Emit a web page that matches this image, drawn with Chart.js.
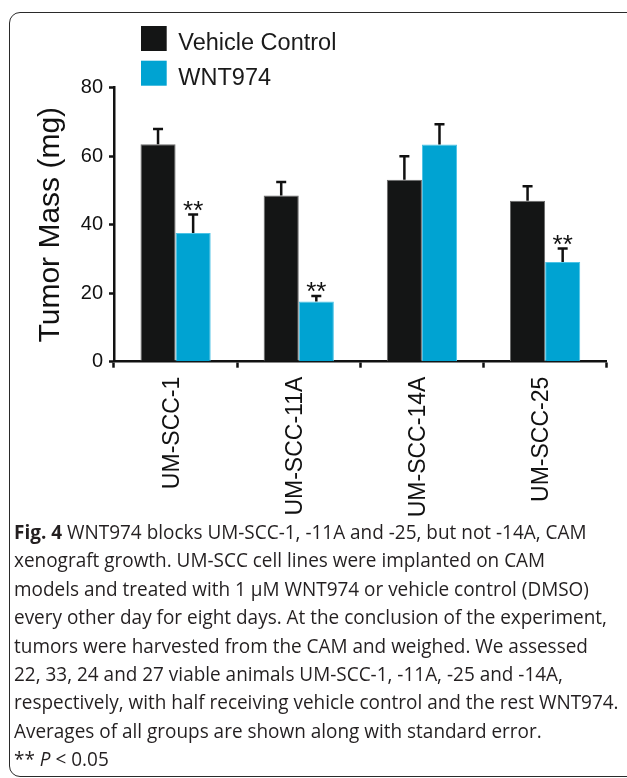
<!DOCTYPE html>
<html>
<head>
<meta charset="utf-8">
<script src="https://cdn.jsdelivr.net/npm/chart.js@4.4.1/dist/chart.umd.min.js"></script>
<style>
html,body{margin:0;padding:0;background:#fff;width:627px;height:778px;overflow:hidden;}
#frame{position:absolute;left:9px;top:12px;width:700px;height:765px;border:1.5px solid #2a2a2a;border-radius:11px;box-sizing:border-box;}
#wrap{position:absolute;left:0;top:0;width:627px;height:520px;}
#caption{position:absolute;left:14px;top:518px;font-family:"Open Sans";font-size:19.5px;line-height:28.4px;color:#231f20;transform-origin:0 0;white-space:nowrap;}
#caption .ln span{display:inline-block;}
</style>
</head>
<body>
<div id="frame"></div>
<div id="wrap"><canvas id="c" width="627" height="520"></canvas></div>
<div id="caption">
<div class="ln"><span><b>Fig. 4</b> WNT974 blocks UM-SCC-1, -11A and -25, but not -14A, CAM</span></div>
<div class="ln"><span>xenograft growth. UM-SCC cell lines were implanted on CAM</span></div>
<div class="ln"><span>models and treated with 1 µM WNT974 or vehicle control (DMSO)</span></div>
<div class="ln"><span id="refline">every other day for eight days. At the conclusion of the experiment,</span></div>
<div class="ln"><span>tumors were harvested from the CAM and weighed. We assessed</span></div>
<div class="ln"><span>22, 33, 24 and 27 viable animals UM-SCC-1, -11A, -25 and -14A,</span></div>
<div class="ln"><span>respectively, with half receiving vehicle control and the rest WNT974.</span></div>
<div class="ln"><span>Averages of all groups are shown along with standard error.</span></div>
<div class="ln"><span>** <i>P</i> &lt; 0.05</span></div>
</div>
<script>
// ---- data ----
const categories = ['UM-SCC-1', 'UM-SCC-11A', 'UM-SCC-14A', 'UM-SCC-25'];
const seriesNames = ['Vehicle Control', 'WNT974'];
const vehicleControl = [63.5, 48.5, 53.1, 47.0];
const vehicleControlSE = [4.8, 4.3, 7.2, 4.6];
const wnt974 = [37.6, 17.6, 63.4, 29.1];
const wnt974SE = [5.7, 1.9, 6.3, 4.3];
const significant = [true, true, false, true];
const yTicks = [0, 20, 40, 60, 80];

const errors = [vehicleControlSE, wnt974SE];
const FONT = 'Liberation Sans';

const extrasPlugin = {
  id: 'extras',
  afterDatasetsDraw(chart) {
    const ctx = chart.ctx;
    const y = chart.scales.y;
    chart.data.datasets.forEach((ds, di) => {
      const meta = chart.getDatasetMeta(di);
      meta.data.forEach((bar, i) => {
        const top = y.getPixelForValue(ds.data[i] + errors[di][i]);
        ctx.save();
        ctx.strokeStyle = '#111';
        ctx.lineWidth = 2.5;
        ctx.beginPath();
        ctx.moveTo(bar.x, bar.y);
        ctx.lineTo(bar.x, top);
        ctx.moveTo(bar.x - 5, top + 1.2);
        ctx.lineTo(bar.x + 5, top + 1.2);
        ctx.stroke();
        if (di === 1 && significant[i]) {
          ctx.fillStyle = '#111';
          ctx.font = '26px "' + FONT + '"';
          ctx.textAlign = 'center';
          ctx.textBaseline = 'alphabetic';
          ctx.fillText('**', bar.x, top + 5.3);
        }
        ctx.restore();
      });
    });
  },
  afterDraw(chart) {
    const ctx = chart.ctx;
    chart.data.datasets.forEach((ds, di) => {
      ctx.save();
      ctx.fillStyle = ds.backgroundColor;
      ctx.fillRect(141, 26 + di * 34.7, 25.7, 25);
      ctx.fillStyle = '#1a1a1a';
      ctx.font = '23.5px "' + FONT + '"';
      ctx.textAlign = 'left';
      ctx.textBaseline = 'alphabetic';
      ctx.fillText(ds.label, 178.3, 50 + di * 34.7);
      ctx.restore();
    });
  }
};

new Chart(document.getElementById('c'), {
  type: 'bar',
  data: {
    labels: categories,
    datasets: [
      { label: seriesNames[0], data: vehicleControl, backgroundColor: '#141515', borderColor: '#6a6a6a', borderWidth: 1 },
      { label: seriesNames[1], data: wnt974, backgroundColor: '#00a3d2', borderColor: '#4cc3e6', borderWidth: 1 }
    ]
  },
  options: {
    responsive: false,
    animation: false,
    layout: { padding: { top: 87.7, right: 20.3, left: 0, bottom: 0 } },
    plugins: { legend: { display: false }, tooltip: { enabled: false } },
    datasets: { bar: { categoryPercentage: 0.57, barPercentage: 1 } },
    scales: {
      x: {
        offset: true,
        grid: { offset: true, drawOnChartArea: false, drawTicks: true, tickLength: 6, tickWidth: 2.5, tickColor: '#111' },
        border: { display: true, color: '#111', width: 2.5 },
        ticks: { minRotation: 90, maxRotation: 90, padding: 9, labelOffset: -3, autoSkip: false, color: '#111', font: { family: FONT, size: 23 } },
        afterFit(s) { s.height = 158.3; }
      },
      y: {
        min: 0, max: 80,
        afterBuildTicks(s) { s.ticks = yTicks.map(v => ({ value: v })); },
        ticks: { padding: 6, color: '#111', font: { family: FONT, size: 20 } },
        grid: { drawOnChartArea: false, drawTicks: true, tickLength: 5, tickWidth: 2.5, tickColor: '#111' },
        border: { display: true, color: '#111', width: 2.5 },
        title: { display: true, text: 'Tumor Mass (mg)', color: '#111', font: { family: FONT, size: 30 }, padding: { top: 33, bottom: 0 } },
        afterFit(s) { s.width = 114; }
      }
    }
  },
  plugins: [extrasPlugin]
});

// fit caption width to the reference (condensed humanist face)
const ref = document.getElementById('refline');
const w = ref.getBoundingClientRect().width;
document.getElementById('caption').style.transform = 'scaleX(' + (593 / w) + ')';
</script>
</body>
</html>
